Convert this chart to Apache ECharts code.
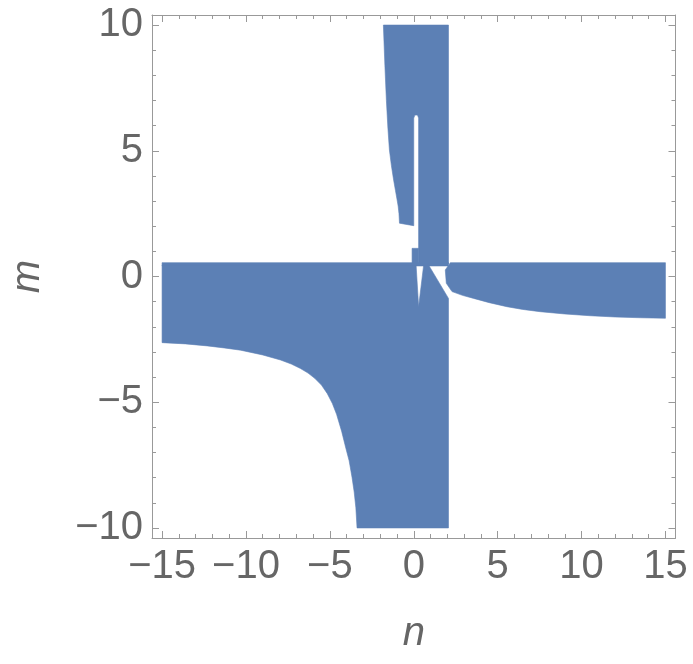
<!DOCTYPE html>
<html>
<head>
<meta charset="utf-8">
<script src="https://cdn.jsdelivr.net/npm/echarts@6/dist/echarts.min.js"></script>
<style>
html, body { margin: 0; padding: 0; background: #fff; }
#chart { width: 693px; height: 664px; }
</style>
</head>
<body>
<div id="chart"></div>
<script>
// region outlines, each point is [n, m]
var upperPiece = [[-1.81, 10], [2.07, 10], [2.07, 0.5], [0.29, 0.5], [0.29, 6.3], [0.22, 6.42],
    [0.07, 6.42], [0, 6.3], [0, 2.02], [-0.85, 2.12], [-0.88, 2.5], [-0.93, 2.8], [-0.99, 3.04],
    [-1.09, 3.42], [-1.2, 3.84], [-1.33, 4.4], [-1.45, 5.03], [-1.54, 5.9], [-1.63, 7.0],
    [-1.72, 8.4], [-1.81, 10]];
var notch = [[-0.1, 1.12], [0.29, 1.12], [0.29, 0.5], [-0.1, 0.5]];
var bandTop = [[-15, 0.55], [2.07, 0.55], [2.07, 0.42], [-15, 0.42]];
var lowerBlock = [[-15, 0.45], [0.14, 0.45], [0.29, -1.2], [0.59, 0.45], [0.89, 0.45],
    [2.07, -0.87], [2.07, -10], [-3.38, -10], [-3.45, -9.2], [-3.55, -8.57], [-3.68, -7.98],
    [-3.85, -7.33], [-4.05, -6.82], [-4.3, -6.15], [-4.6, -5.48], [-4.85, -5.05], [-5.15, -4.66],
    [-5.5, -4.32], [-5.9, -4.05], [-6.3, -3.84], [-6.75, -3.66], [-7.3, -3.48], [-7.94, -3.32],
    [-9.0, -3.12], [-10.32, -2.93], [-11.3, -2.84], [-12.3, -2.76], [-13.6, -2.68], [-15, -2.63]];
var rightBand = [[2.18, 0.55], [15, 0.55], [15, -1.66], [13.49, -1.64], [12.0, -1.61],
    [10.51, -1.56], [9.0, -1.49], [7.54, -1.4], [6.5, -1.31], [5.55, -1.2], [4.5, -1.04],
    [3.57, -0.87], [2.9, -0.75], [2.28, -0.6], [1.94, -0.27], [1.88, 0.26]];

var regions = [upperPiece, notch, bandTop, lowerBlock, rightBand];

var xMajorTicks = [-15, -10, -5, 0, 5, 10, 15];
var xMinorTicks = [-15, -14, -13, -12, -11, -10, -9, -8, -7, -6, -5, -4, -3, -2, -1, 0,
    1, 2, 3, 4, 5, 6, 7, 8, 9, 10, 11, 12, 13, 14, 15];
var yMajorTicks = [-10, -5, 0, 5, 10];
var yMinorTicks = [-10, -9, -8, -7, -6, -5, -4, -3, -2, -1, 0, 1, 2, 3, 4, 5, 6, 7, 8, 9, 10];

var fillColor = '#5c80b5';
var frameColor = '#999';
var textColor = '#666';
var font = 'Liberation Sans';

function minusFmt(v) {
    return v < 0 ? '\u2212' + (-v) : String(v);
}

// one axis = one side of the frame, major or minor ticks
function makeAxis(pos, range, ticks, len, showLine, labels) {
    return {
        type: 'value',
        position: pos,
        min: range[0],
        max: range[1],
        axisLine: { show: showLine, onZero: false, lineStyle: { color: frameColor, width: 1 } },
        axisTick: { show: true, inside: true, length: len, customValues: ticks,
            lineStyle: { color: frameColor, width: 1 } },
        axisLabel: labels ? { show: true, customValues: ticks, formatter: minusFmt,
            fontSize: 40, fontFamily: font, color: textColor, margin: 9 } : { show: false },
        splitLine: { show: false }
    };
}

var xRange = [-15.6, 15.6];
var yRange = [-10.4, 10.4];

var xBottom = makeAxis('bottom', xRange, xMajorTicks, 7, true, true);
xBottom.name = 'n';
xBottom.nameLocation = 'middle';
xBottom.nameGap = 76;
xBottom.nameTextStyle = { fontSize: 40, fontStyle: 'italic', fontFamily: font, color: textColor };

var yLeft = makeAxis('left', yRange, yMajorTicks, 7, true, true);
yLeft.name = 'm';
yLeft.nameLocation = 'middle';
yLeft.nameGap = 104;
yLeft.nameRotate = 90;
yLeft.nameTextStyle = { fontSize: 40, fontStyle: 'italic', fontFamily: font, color: textColor };

var chart = echarts.init(document.getElementById('chart'));
chart.setOption({
    animation: false,
    grid: { left: 151, right: 17.5, top: 15, bottom: 126 },
    xAxis: [
        xBottom,
        makeAxis('bottom', xRange, xMinorTicks, 4, false, false),
        makeAxis('top', xRange, xMajorTicks, 7, true, false),
        makeAxis('top', xRange, xMinorTicks, 4, false, false)
    ],
    yAxis: [
        yLeft,
        makeAxis('left', yRange, yMinorTicks, 4, false, false),
        makeAxis('right', yRange, yMajorTicks, 7, true, false),
        makeAxis('right', yRange, yMinorTicks, 4, false, false)
    ],
    series: [{
        type: 'custom',
        xAxisIndex: 0,
        yAxisIndex: 0,
        silent: true,
        data: regions.map(function (r, i) { return [i]; }),
        renderItem: function (params, api) {
            var pts = regions[params.dataIndex].map(function (p) { return api.coord(p); });
            return {
                type: 'polygon',
                shape: { points: pts },
                style: { fill: fillColor, stroke: fillColor, lineWidth: 0.6 }
            };
        }
    }]
});
</script>
</body>
</html>
